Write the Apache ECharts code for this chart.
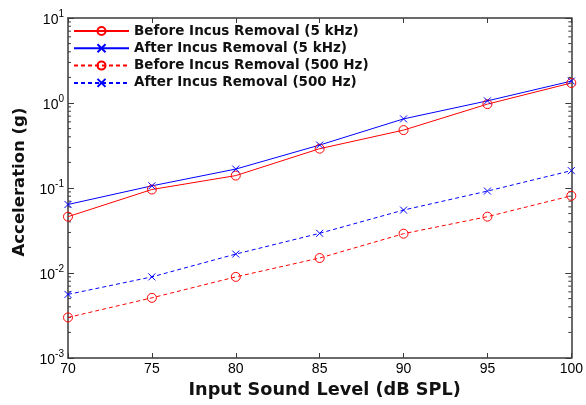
<!DOCTYPE html>
<html><head><meta charset="utf-8">
<script src="https://cdn.jsdelivr.net/npm/echarts@6/dist/echarts.min.js"></script>
<style>html,body{margin:0;padding:0;background:#fff}#c{width:586px;height:405px}</style>
</head><body><div id="c"></div>
<script>
var levels = [70, 75, 80, 85, 90, 95, 100];
var before5k = [0.046, 0.096, 0.14, 0.29, 0.48, 0.97, 1.72];
var after5k = [0.064, 0.106, 0.167, 0.32, 0.65, 1.06, 1.81];
var before500 = [0.003, 0.0051, 0.009, 0.015, 0.029, 0.046, 0.081];
var after500 = [0.0056, 0.009, 0.0167, 0.0293, 0.055, 0.092, 0.16];
var seriesNames = ['Before Incus Removal (5 kHz)', 'After Incus Removal (5 kHz)', 'Before Incus Removal (500 Hz)', 'After Incus Removal (500 Hz)'];
var xTicks = [70, 75, 80, 85, 90, 95, 100];
var yMin = 0.001, yMax = 10;

var minorVals = [];
for (var e = -3; e < 1; e++) for (var m = 2; m <= 9; m++) minorVals.push(m * Math.pow(10, e));

function pair(arr) { return levels.map(function (l, i) { return [l, arr[i]]; }); }
var crossPath = 'path://M0,0L10,10M10,0L0,10';
var axisColor = '#3a3a3a';
var boldFont = 'DejaVu Sans';

function mk(name, data, color, dashed, cross) {
  return {
    name: name, type: 'line', data: pair(data),
    symbol: cross ? crossPath : 'circle',
    symbolSize: cross ? 7 : 9,
    lineStyle: { color: color, width: 1, type: dashed ? [4, 3] : 'solid' },
    itemStyle: { color: cross ? color : 'transparent', borderColor: color, borderWidth: 1 },
    emphasis: { disabled: true },
    animation: false, z: 3
  };
}

var chart = echarts.init(document.getElementById('c'));
chart.setOption({
  animation: false,
  grid: { left: 68, right: 12, top: 18, bottom: 47 },
  legend: {
    data: seriesNames, orient: 'vertical', left: 68, top: 19,
    itemWidth: 55, itemHeight: 10, itemGap: 3.3,
    textStyle: { fontFamily: boldFont, fontWeight: 'bold', fontSize: 13.5, color: '#111' }
  },
  xAxis: [{
    type: 'value', min: 70, max: 100, interval: 5,
    name: 'Input Sound Level (dB SPL)', nameLocation: 'middle', nameGap: 19,
    nameTextStyle: { fontFamily: boldFont, fontWeight: 'bold', fontSize: 17.7, color: '#111', padding: [0, 0, 0, 10] },
    axisLine: { show: true, lineStyle: { color: axisColor, width: 1.5 } },
    axisTick: { show: true, inside: true, length: 5, lineStyle: { color: axisColor } },
    axisLabel: { fontFamily: 'Liberation Sans, Arial', fontSize: 14, color: '#000', margin: 4 },
    splitLine: { show: false }
  }, {
    type: 'value', position: 'top', min: 70, max: 100, interval: 5,
    axisLine: { show: true, lineStyle: { color: axisColor, width: 1.5 } },
    axisTick: { show: true, inside: true, length: 5, lineStyle: { color: axisColor } },
    axisLabel: { show: false }, splitLine: { show: false }
  }],
  yAxis: [{
    type: 'log', logBase: 10, min: yMin, max: yMax,
    name: 'Acceleration (g)', nameLocation: 'middle', nameGap: 25, nameRotate: 90,
    nameTextStyle: { fontFamily: boldFont, fontWeight: 'bold', fontSize: 16.5, color: '#111', padding: [0, 0, 0, 12] },
    axisLine: { show: true, lineStyle: { color: axisColor, width: 1.5 } },
    axisTick: { show: true, inside: true, length: 6, lineStyle: { color: axisColor } },
    axisLabel: {
      margin: 4, color: '#000',
      formatter: function (v) { var ex = Math.round(Math.log10(v)); return '{b|10}{s|' + ex + '}'; },
      rich: {
        b: { fontFamily: 'Liberation Sans, Arial', fontSize: 14, color: '#000', lineHeight: 18, verticalAlign: 'bottom' },
        s: { fontFamily: 'Liberation Sans, Arial', fontSize: 10, color: '#000', verticalAlign: 'top', lineHeight: 18 }
      }
    },
    splitLine: { show: false }
  }, {
    type: 'log', logBase: 10, min: yMin, max: yMax, position: 'right',
    axisLine: { show: true, lineStyle: { color: axisColor, width: 1.5 } },
    axisTick: { show: true, inside: true, length: 6, lineStyle: { color: axisColor } },
    axisLabel: { show: false }, splitLine: { show: false }
  }],
  series: [
    mk(seriesNames[0], before5k, '#ff0000', false, false),
    mk(seriesNames[1], after5k, '#0000ff', false, true),
    mk(seriesNames[2], before500, '#ff0000', true, false),
    mk(seriesNames[3], after500, '#0000ff', true, true),
    {
      type: 'custom', name: 'minorTicks', silent: true, z: 2,
      data: minorVals.map(function (v) { return [70, v]; }),
      renderItem: function (params, api) {
        var v = api.value(1);
        var pl = api.coord([70, v]);
        var pr = api.coord([100, v]);
        var st = { stroke: axisColor, lineWidth: 1 };
        return { type: 'group', children: [
          { type: 'line', shape: { x1: pl[0], y1: pl[1], x2: pl[0] + 3, y2: pl[1] }, style: st },
          { type: 'line', shape: { x1: pr[0], y1: pr[1], x2: pr[0] - 3, y2: pr[1] }, style: st }
        ] };
      }
    }
  ]
});
</script></body></html>
